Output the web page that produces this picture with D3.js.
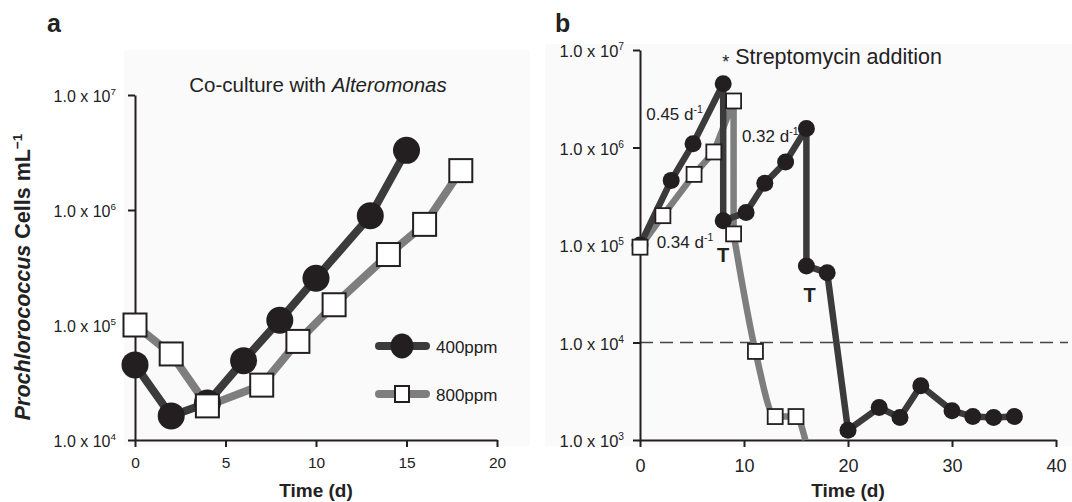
<!DOCTYPE html>
<html>
<head>
<meta charset="utf-8">
<script src="https://cdn.jsdelivr.net/npm/d3@7"></script>
<style>
  body { margin: 0; background: #fff; }
  svg { display: block; font-family: "Liberation Sans", Arial, sans-serif; }
</style>
</head>
<body>
<svg id="chart"></svg>
<script>
// Panel a: co-culture with Alteromonas
var daysA400 = [0, 2, 4, 6, 8, 10, 13, 15];
var cellsA400 = [4.5e4, 1.62e4, 2.1e4, 4.9e4, 1.1e5, 2.55e5, 8.9e5, 3.3e6];
var daysA800 = [0, 2, 4, 7, 9, 11, 14, 16, 18];
var cellsA800 = [1.0e5, 5.6e4, 1.98e4, 3.0e4, 7.2e4, 1.5e5, 4.1e5, 7.5e5, 2.2e6];

// Panel b: streptomycin addition
var daysB400 = [0, 3, 5.1, 8, 8, 10.2, 12, 14, 16, 16, 18, 20, 23, 25, 27, 30, 32, 34, 36];
var cellsB400 = [1.0e5, 4.6e5, 1.09e6, 4.5e6, 1.77e5, 2.16e5, 4.3e5, 7.1e5, 1.57e6, 6.1e4, 5.2e4,
                 1.26e3, 2.15e3, 1.7e3, 3.6e3, 2.0e3, 1.74e3, 1.7e3, 1.74e3];
var daysB800 = [0, 2.2, 5.2, 7.1, 9, 9, 11.1, 13, 15, 15.9];
var cellsB800 = [9.5e4, 2.0e5, 5.3e5, 9.0e5, 3.0e6, 1.3e5, 8.1e3, 1.74e3, 1.74e3, 1.0e3];
var markerB800 = [1, 1, 1, 1, 1, 1, 1, 1, 1, 0];

var seriesNames = ["400ppm", "800ppm"];
var yTicksA = [1e4, 1e5, 1e6, 1e7];
var yTicksB = [1e3, 1e4, 1e5, 1e6, 1e7];
var xTicksA = [0, 5, 10, 15, 20];
var xTicksB = [0, 10, 20, 30, 40];
var detectionLimit = 1e4;

// text annotations on panel b (day, cells)
var rateLabels = [
    { day: 0.6, cells: 2.2e6, text: "0.45 d" },
    { day: 9.8, cells: 1.3e6, text: "0.32 d" },
    { day: 1.6, cells: 1.08e5, text: "0.34 d" }
];
var transferLabels = [
    { day: 8.0, cells: 6.7e4 },
    { day: 16.3, cells: 2.6e4 }
];

var dark = "#3b3b3b", grey = "#7e7e7e", ink = "#231f20";

var svg = d3.select("#chart")
    .attr("width", 1072)
    .attr("height", 502);

svg.append("rect").attr("width", 1072).attr("height", 502).attr("fill", "#fff");

function zip(xs, ys) {
    return xs.map(function (x, i) { return { x: x, y: ys[i], i: i }; });
}

function sciText(sel, v, size) {
    var e = Math.round(Math.log10(v));
    sel.append("tspan").text("1.0 x 10");
    sel.append("tspan").attr("font-size", size * 0.62).attr("dy", -size * 0.42).text(e);
}

function drawAxes(g, x, y, xTicks, yTicks, opt) {
    var gx = g.append("g")
        .attr("transform", "translate(0," + y.range()[0] + ")")
        .call(d3.axisBottom(x).tickValues(xTicks).tickSize(7).tickSizeOuter(0).tickFormat(d3.format("d")));
    gx.selectAll("text")
        .attr("font-size", opt.xFont)
        .attr("font-family", "Liberation Sans, Arial, sans-serif")
        .attr("fill", "#222")
        .attr("y", opt.xLabelY);

    var gy = g.append("g")
        .attr("transform", "translate(" + x.range()[0] + ",0)")
        .call(d3.axisLeft(y).tickValues(yTicks).tickSize(7).tickSizeOuter(0).tickFormat(""));
    gy.selectAll(".tick text").remove();
    gy.selectAll(".tick").each(function (d) {
        var t = d3.select(this).append("text")
            .attr("x", -opt.yLabelGap)
            .attr("y", opt.yFont * 0.4)
            .attr("text-anchor", "end")
            .attr("font-size", opt.yFont)
            .attr("fill", "#222");
        sciText(t, d, opt.yFont);
    });

    [gx, gy].forEach(function (a) {
        a.select(".domain").attr("stroke", ink).attr("stroke-width", 2);
        a.selectAll(".tick line").attr("stroke", ink).attr("stroke-width", 2);
    });

    g.append("text")
        .attr("x", (x.range()[0] + x.range()[1]) / 2)
        .attr("y", 497)
        .attr("text-anchor", "middle")
        .attr("font-size", 19)
        .attr("font-weight", "bold")
        .attr("fill", "#222")
        .text("Time (d)");
}

// ---------- Panel a ----------
var xA = d3.scaleLinear().domain([0, 20]).range([135, 497]);
var yA = d3.scaleLog().domain([1e4, 1e7]).range([440, 95]);
var gA = svg.append("g");

gA.append("rect").attr("x", 124).attr("y", 50).attr("width", 406).attr("height", 396).attr("fill", "#fafafa");

drawAxes(gA, xA, yA, xTicksA, yTicksA, { xFont: 15.5, xLabelY: 17, yFont: 16, yLabelGap: 19 });

var lineA = d3.line().x(function (d) { return xA(d.x); }).y(function (d) { return yA(d.y); });
var a800 = zip(daysA800, cellsA800), a400 = zip(daysA400, cellsA400);

gA.append("path").datum(a800).attr("d", lineA).attr("fill", "none")
    .attr("stroke", grey).attr("stroke-width", 8).attr("stroke-linejoin", "round");
gA.append("path").datum(a400).attr("d", lineA).attr("fill", "none")
    .attr("stroke", dark).attr("stroke-width", 8).attr("stroke-linejoin", "round");
gA.selectAll(".c400").data(a400).enter().append("ellipse")
    .attr("cx", function (d) { return xA(d.x); })
    .attr("cy", function (d) { return yA(d.y); })
    .attr("rx", 13.5).attr("ry", 13.5)
    .attr("fill", ink);
gA.selectAll(".s800").data(a800).enter().append("rect")
    .attr("x", function (d) { return xA(d.x) - 11.5; })
    .attr("y", function (d) { return yA(d.y) - 11.5; })
    .attr("width", 23).attr("height", 23)
    .attr("fill", "#fff").attr("stroke", ink).attr("stroke-width", 2);

// legend
var leg = gA.append("g");
leg.append("line").attr("x1", 379).attr("x2", 426).attr("y1", 346).attr("y2", 346)
    .attr("stroke", dark).attr("stroke-width", 8).attr("stroke-linecap", "round");
leg.append("ellipse").attr("cx", 402).attr("cy", 346).attr("rx", 11.5).attr("ry", 12.5).attr("fill", ink);
leg.append("line").attr("x1", 379).attr("x2", 426).attr("y1", 394).attr("y2", 394)
    .attr("stroke", grey).attr("stroke-width", 8).attr("stroke-linecap", "round");
leg.append("rect").attr("x", 395).attr("y", 386).attr("width", 14).attr("height", 16)
    .attr("fill", "#fff").attr("stroke", ink).attr("stroke-width", 2);
leg.selectAll(".lt").data(seriesNames).enter().append("text")
    .attr("x", 436).attr("y", function (d, i) { return 353 + i * 48; })
    .attr("font-size", 17).attr("fill", "#222")
    .text(function (d) { return d; });

// title
var title = gA.append("text").attr("x", 318).attr("y", 92).attr("text-anchor", "middle")
    .attr("font-size", 20.5).attr("fill", "#222");
title.append("tspan").text("Co-culture with ");
title.append("tspan").attr("font-style", "italic").text("Alteromonas");

// y axis title
var yt = gA.append("text")
    .attr("transform", "translate(30,277) rotate(-90)")
    .attr("text-anchor", "middle")
    .attr("font-size", 21.5).attr("font-weight", "bold").attr("fill", "#222");
yt.append("tspan").attr("font-style", "italic").text("Prochlorococcus");
yt.append("tspan").text(" Cells mL");
yt.append("tspan").attr("font-size", 13.5).attr("dy", -8).text("\u22121");

gA.append("text").attr("x", 47).attr("y", 32).attr("font-size", 25).attr("font-weight", "bold")
    .attr("fill", "#222").text("a");

// ---------- Panel b ----------
var xB = d3.scaleLinear().domain([0, 40]).range([640, 1056]);
var yB = d3.scaleLog().domain([1e3, 1e7]).range([440, 50]);
var gB = svg.append("g");

gB.append("rect").attr("x", 545).attr("y", 44).attr("width", 527).attr("height", 402).attr("fill", "#fafafa");

// detection limit
gB.append("line")
    .attr("x1", xB(0)).attr("x2", 1068)
    .attr("y1", yB(detectionLimit)).attr("y2", yB(detectionLimit))
    .attr("stroke", "#444").attr("stroke-width", 1.6).attr("stroke-dasharray", "13,7");

drawAxes(gB, xB, yB, xTicksB, yTicksB, { xFont: 18, xLabelY: 19, yFont: 16.5, yLabelGap: 16 });

var lineB = d3.line().x(function (d) { return xB(d.x); }).y(function (d) { return yB(d.y); });
var b800 = zip(daysB800, cellsB800), b400 = zip(daysB400, cellsB400);

// grey series: linear rise, smoothed decline after streptomycin
gB.append("path").datum(b800.slice(0, 6)).attr("d", lineB).attr("fill", "none")
    .attr("stroke", grey).attr("stroke-width", 6.5).attr("stroke-linejoin", "round");
gB.append("path").datum(b800.slice(5)).attr("d", lineB.curve(d3.curveMonotoneX)).attr("fill", "none")
    .attr("stroke", grey).attr("stroke-width", 6.5).attr("stroke-linejoin", "round");
lineB.curve(d3.curveLinear);

gB.append("path").datum(b400).attr("d", lineB).attr("fill", "none")
    .attr("stroke", dark).attr("stroke-width", 6.5).attr("stroke-linejoin", "round");
gB.selectAll(".c400").data(b400).enter().append("circle")
    .attr("cx", function (d) { return xB(d.x); })
    .attr("cy", function (d) { return yB(d.y); })
    .attr("r", 8.5)
    .attr("fill", ink);
gB.selectAll(".s800").data(b800.filter(function (d) { return markerB800[d.i]; })).enter().append("rect")
    .attr("x", function (d) { return xB(d.x) - 7.5; })
    .attr("y", function (d) { return yB(d.y) - 7.5; })
    .attr("width", 15).attr("height", 15)
    .attr("fill", "#fff").attr("stroke", ink).attr("stroke-width", 1.8);

// rate labels
gB.selectAll(".rate").data(rateLabels).enter().append("text")
    .attr("x", function (d) { return xB(d.day); })
    .attr("y", function (d) { return yB(d.cells) + 6; })
    .attr("font-size", 17).attr("fill", "#222")
    .each(function (d) {
        var t = d3.select(this);
        t.append("tspan").text(d.text);
        t.append("tspan").attr("font-size", 10.5).attr("dy", -7).text("-1");
    });

gB.selectAll(".tr").data(transferLabels).enter().append("text")
    .attr("x", function (d) { return xB(d.day); })
    .attr("y", function (d) { return yB(d.cells); })
    .attr("text-anchor", "middle")
    .attr("font-size", 20).attr("font-weight", "bold").attr("fill", "#222")
    .text("T");

var strep = gB.append("text").attr("x", xB(7.9)).attr("y", 64)
    .attr("font-size", 21.5).attr("fill", "#222");
strep.append("tspan").attr("font-size", 18).attr("dy", 4).text("*");
strep.append("tspan").attr("dx", 6).attr("dy", -4).text("Streptomycin addition");

gB.append("text").attr("x", 555).attr("y", 32).attr("font-size", 25).attr("font-weight", "bold")
    .attr("fill", "#222").text("b");
</script>
</body>
</html>
